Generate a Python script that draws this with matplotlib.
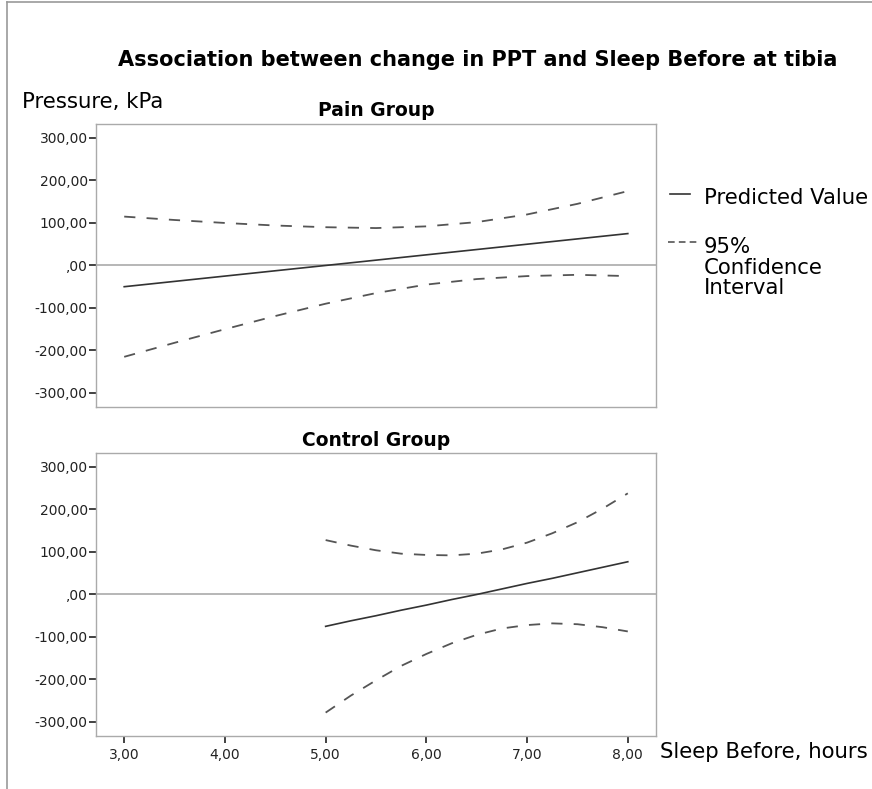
import numpy as np
import matplotlib
matplotlib.use("Agg")
import matplotlib.pyplot as plt
from matplotlib.lines import Line2D

# values
pain_x = [3.0, 3.5, 4.0, 4.5, 5.0, 5.5, 6.0, 6.5, 7.0, 7.5, 8.0]
pain_pred = [-50, -37.5, -25, -12.5, 0, 12.5, 25, 37.5, 50, 62.5, 75]
pain_upper = [115, 107, 100, 94, 90, 88, 92, 102, 120, 145, 175]
pain_lower = [-215, -182, -150, -119, -90, -65, -45, -32, -25, -22, -25]

ctrl_x = [5.0, 5.25, 5.5, 5.75, 6.0, 6.25, 6.5, 6.75, 7.0, 7.25, 7.5, 7.75, 8.0]
ctrl_pred = [-75, -62, -50, -37, -25, -12, 0, 13, 26, 38, 51, 64, 77]
ctrl_upper = [128, 115, 104, 96, 93, 92, 96, 106, 122, 144, 170, 202, 238]
ctrl_lower = [-278, -238, -202, -168, -140, -115, -95, -80, -72, -68, -70, -77, -87]

y_ticks = [300, 200, 100, 0, -100, -200, -300]
y_labels = ["300,00", "200,00", "100,00", ",00", "-100,00", "-200,00", "-300,00"]
x_ticks = [3, 4, 5, 6, 7, 8]
x_labels = ["3,00", "4,00", "5,00", "6,00", "7,00", "8,00"]

LINE_COL = "#333333"
DASH_COL = "#555555"
SPINE_COL = "#aaaaaa"

fig = plt.figure(figsize=(8.72, 7.89), dpi=100)

# outer frame lines (left and top) like the SPSS viewer
fig.add_artist(Line2D([0.008, 0.008], [0.0, 0.997], color="#999999", lw=1.2))
fig.add_artist(Line2D([0.008, 1.0], [0.997, 0.997], color="#999999", lw=1.2))


def style_panel(ax, show_x):
    ax.set_xlim(2.72, 8.28)
    ax.set_ylim(-333, 333)
    for s in ax.spines.values():
        s.set_color(SPINE_COL)
        s.set_linewidth(1.0)
    ax.axhline(0, color="#aaaaaa", lw=1.2, zorder=1)
    ax.set_yticks(y_ticks)
    ax.set_yticklabels(y_labels)
    ax.tick_params(axis="y", length=5, width=1.2, color="#222222",
                   labelsize=10, labelcolor="#222222", pad=1)
    if show_x:
        ax.set_xticks(x_ticks)
        ax.set_xticklabels(x_labels)
        ax.tick_params(axis="x", length=5, width=1.2, color="#222222",
                       labelsize=10, labelcolor="#222222", pad=4)
    else:
        ax.set_xticks([])


def draw_group(ax, x, pred, upper, lower):
    ax.plot(x, pred, color=LINE_COL, lw=1.2, zorder=3)
    ax.plot(x, upper, color=DASH_COL, lw=1.3, dashes=(6.2, 6.2), zorder=3)
    ax.plot(x, lower, color=DASH_COL, lw=1.3, dashes=(6.2, 6.2), zorder=3)


ax1 = fig.add_axes([0.1101, 0.4842, 0.6422, 0.3587])
style_panel(ax1, False)
draw_group(ax1, pain_x, pain_pred, pain_upper, pain_lower)
ax1.set_title("Pain Group", fontsize=13.5, fontweight="bold", pad=6)

ax2 = fig.add_axes([0.1101, 0.0672, 0.6422, 0.3587])
style_panel(ax2, True)
draw_group(ax2, ctrl_x, ctrl_pred, ctrl_upper, ctrl_lower)
ax2.set_title("Control Group", fontsize=13.5, fontweight="bold", pad=5)

fig.text(0.548, 0.924, "Association between change in PPT and Sleep Before at tibia",
         ha="center", va="center", fontsize=15, fontweight="bold")
fig.text(0.025, 0.871, "Pressure, kPa", ha="left", va="center", fontsize=15.3)
fig.text(0.757, 0.047, "Sleep Before, hours", ha="left", va="center", fontsize=15.3)

# legend drawn by hand on the right
fig.add_artist(Line2D([0.768, 0.791], [0.754, 0.754], color=LINE_COL, lw=1.2))
fig.text(0.807, 0.749, "Predicted Value", ha="left", va="center", fontsize=15.3)
fig.add_artist(Line2D([0.766, 0.803], [0.693, 0.693], color=DASH_COL, lw=1.2,
                      dashes=(4, 2.5)))
fig.text(0.807, 0.699, "95%\nConfidence\nInterval", ha="left", va="top",
         fontsize=15.3, linespacing=1.02)

fig.savefig("out.png", dpi=100, facecolor="white")
